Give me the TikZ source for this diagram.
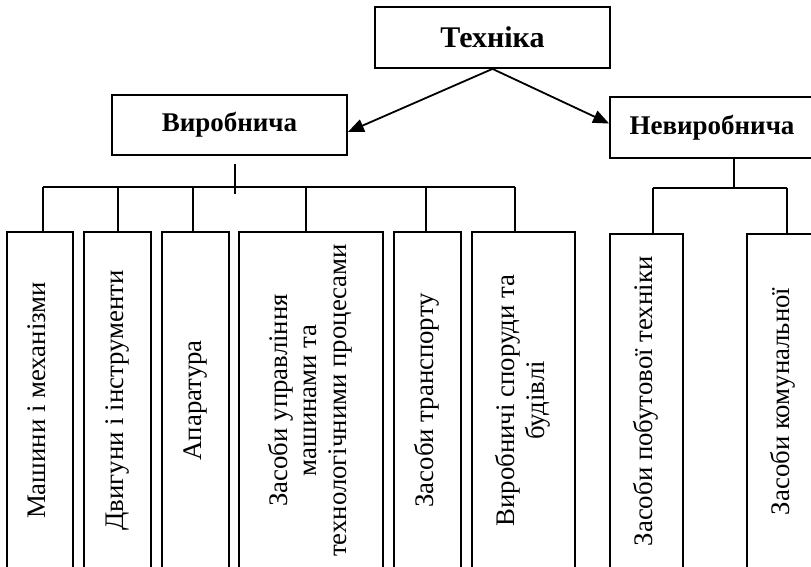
\documentclass[tikz,border=0pt]{standalone}
\usepackage{fontspec}
\usepackage{graphicx}
\setmainfont{Liberation Serif}
\usetikzlibrary{arrows.meta}
% rotated, centred label for the tall boxes
\newcommand\uptext[1]{\rotatebox{90}{\fontsize{26.8}{29.5}\selectfont\begin{tabular}{@{}c@{}}#1\end{tabular}}}
\begin{document}
\begin{tikzpicture}[x=1pt,y=-1pt,
  line width=1.8pt,
  head/.style={draw, line width=1.8pt, minimum height=61pt, inner sep=0pt,
    font=\fontsize{27}{30}\selectfont\bfseries},
  leaf/.style={draw, line width=1.8pt, anchor=north, minimum height=337pt, inner sep=0pt},
  link/.style={-{Triangle[length=16pt,width=13pt]}},
]
\useasboundingbox (0,0) rectangle (811,566);

% top levels
\node[head, minimum width=235pt, font=\fontsize{30}{33}\selectfont\bfseries] (tech) at (492.5,37.5) {Техніка};
\node[head, minimum width=235pt, minimum height=60pt] (vyr) at (229.5,125) {Виробнича};
\node[head, minimum width=204pt] (nevyr) at (712,127.5) {Невиробнича};

\draw[link] (tech.south) -- ([yshift=-7pt]vyr.east);
\draw[link] (tech.south) -- ([yshift=4pt]nevyr.west);

% production branch
\node[leaf, minimum width=66pt]  (c1) at (40,231)    {\uptext{Машини і механізми}};
\node[leaf, minimum width=67pt]  (c2) at (117.5,231) {\uptext{Двигуни і інструменти}};
\node[leaf, minimum width=67pt]  (c3) at (195.5,231) {\uptext{Апаратура}};
\node[leaf, minimum width=144pt] (c4) at (311,231)   {\uptext{Засоби управління\\машинами та\\технологічними процесами}};
\node[leaf, minimum width=67pt]  (c5) at (427.5,231) {\uptext{Засоби транспорту}};
\node[leaf, minimum width=103pt] (c6) at (523.5,231) {\uptext{Виробничі споруди та\\будівлі}};

\coordinate (busA) at (235,187);
\draw ([xshift=5.5pt,yshift=-8pt]vyr.south) -- ++(0,30);
\draw ([xshift=3pt]c1.north |- busA) -- ([xshift=-8.5pt]c6.north |- busA);
\draw ([xshift=3pt]c1.north)    -- ([xshift=3pt]c1.north |- busA);
\draw ([xshift=0.5pt]c2.north)  -- ([xshift=0.5pt]c2.north |- busA);
\draw ([xshift=-2.5pt]c3.north) -- ([xshift=-2.5pt]c3.north |- busA);
\draw ([xshift=-5pt]c4.north)   -- ([xshift=-5pt]c4.north |- busA);
\draw ([xshift=-1.5pt]c5.north) -- ([xshift=-1.5pt]c5.north |- busA);
\draw ([xshift=-8.5pt]c6.north) -- ([xshift=-8.5pt]c6.north |- busA);

% non-production branch
\node[leaf, minimum width=73pt, minimum height=335pt] (c7) at (646.5,233) {\uptext{Засоби побутової техніки}};
\node[leaf, minimum width=73pt, minimum height=335pt] (c8) at (783.5,233) {\uptext{Засоби комунальної}};

\coordinate (busB) at (734,188);
\draw ([xshift=22pt]nevyr.south) -- (busB);
\draw ([xshift=6.5pt]c7.north |- busB) -- ([xshift=3.5pt]c8.north |- busB);
\draw ([xshift=6.5pt]c7.north) -- ([xshift=6.5pt]c7.north |- busB);
\draw ([xshift=3.5pt]c8.north) -- ([xshift=3.5pt]c8.north |- busB);
\end{tikzpicture}
\end{document}
